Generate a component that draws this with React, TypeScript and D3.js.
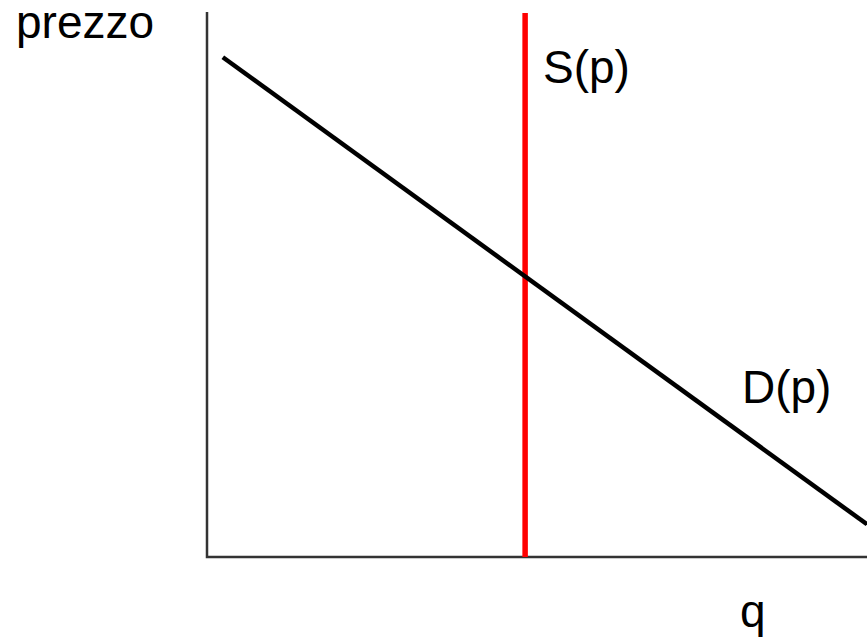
import React from "react";
import * as d3 from "d3";

const qDomain = [0, 100];
const pDomain = [0, 100];
const supplyQ = 48.2;
const supplyP = [0, 99.8];
const demandPoints = [
  { q: 2.4, p: 91.7 },
  { q: 100, p: 6.0 },
];
const labels = { yAxis: "prezzo", xAxis: "q", supply: "S(p)", demand: "D(p)" };

const W = 867;
const H = 639;
const left = 207;
const right = 867;
const bottom = 557;
const top = 12;

export default function App() {
  const x = d3.scaleLinear().domain(qDomain).range([left, right]);
  const y = d3.scaleLinear().domain(pDomain).range([bottom, top]);
  const line = d3
    .line<{ q: number; p: number }>()
    .x((d) => x(d.q))
    .y((d) => y(d.p));
  const font = "'Liberation Sans', Arial, Helvetica, sans-serif";
  return (
    <svg
      width={W}
      height={H}
      style={{ position: "absolute", left: 0, top: 0, display: "block", background: "#fff" }}
    >
      <path
        d={`M${x(0)},${y(pDomain[1])}V${y(0)}H${x(qDomain[1])}`}
        fill="none"
        stroke="#333"
        strokeWidth={2.5}
      />
      <line
        x1={x(supplyQ)}
        x2={x(supplyQ)}
        y1={y(supplyP[0])}
        y2={y(supplyP[1])}
        stroke="#ff0000"
        strokeWidth={5.5}
      />
      <path d={line(demandPoints) || ""} fill="none" stroke="#000" strokeWidth={4.5} />
      <g fontFamily={font} fontSize={46} fill="#000">
        <text x={16} y={38}>{labels.yAxis}</text>
        <text x={543} y={83}>{labels.supply}</text>
        <text x={742} y={403}>{labels.demand}</text>
        <text x={740} y={627}>{labels.xAxis}</text>
      </g>
    </svg>
  );
}
